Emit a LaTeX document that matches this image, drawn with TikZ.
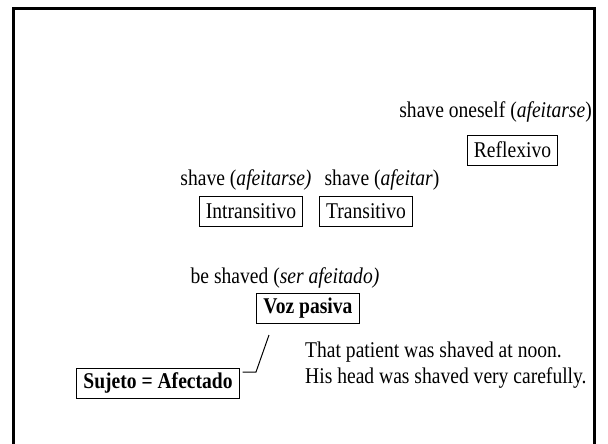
\documentclass[tikz,border=0pt]{standalone}
\usepackage{fontspec}
\setmainfont[FakeStretch=0.87]{Liberation Serif}
\usetikzlibrary{positioning}
\tikzset{
  % Voice category boxes
  voicebox/.style={draw, line width=1pt, inner xsep=6.5pt, minimum height=30pt, font=\fontsize{22.5}{26}\selectfont},
  voiceboxbold/.style={voicebox, font=\fontsize{22.5}{26}\selectfont\bfseries},
  % Glosses and examples
  glossnode/.style={inner sep=0pt, font=\fontsize{22.5}{26}\selectfont},
  examplenode/.style={glossnode, align=left},
  % Frame and pointer
  slideframe/.style={line width=3pt},
  subjectpointer/.style={line width=1pt, shorten >=3pt},
}

\begin{document}
\begin{tikzpicture}[x=1pt, y=-1pt, node distance=16pt]

      \useasboundingbox (0,0) rectangle (608,444);
      \draw[slideframe] (13,444) -- (13,8.5) -- (594,8.5) -- (594,444);

      \node[glossnode, anchor=east] (reflexgloss) at (592,112) {shave oneself (\textit{afeitarse})};
      \node[voicebox] (reflex) at (512.5,150) {Reflexivo};

      \node[glossnode] (intransgloss) at (246,180) {shave (\textit{afeitarse)}};
      \node[glossnode] (transgloss) at (382,180) {shave (\textit{afeitar})};
      \node[voicebox] (intrans) at (251,211.5) {Intransitivo};
      \node[voicebox, right=of intrans] (trans) {Transitivo};

      \node[glossnode] (pasivagloss) at (285,278) {be shaved (\textit{ser afeitado)}};
      \node[voiceboxbold] (pasiva) at (308,308) {Voz pasiva};

      \node[voiceboxbold] (sujeto) at (158,383) {Sujeto = Afectado};
      \node[examplenode, anchor=west] (examples) at (305,365.5) {That patient was shaved at noon.\\His head was shaved very carefully.};

      \coordinate (pasivatip) at (269,335);
      \coordinate (pasivabend) at (256,372);
      \draw[subjectpointer] (pasivatip) -- (pasivabend) -- (pasivabend -| sujeto.east);

    \end{tikzpicture}
\end{document}
